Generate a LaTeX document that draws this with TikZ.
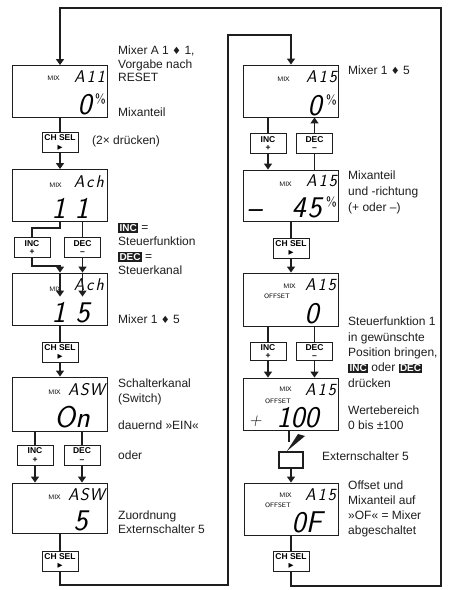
\documentclass[tikz,border=0pt]{standalone}
\usepackage{fontspec}
\setmainfont{Liberation Sans}
\newfontfamily\symbolfont{DejaVu Sans}
\usepackage{tikz}
\usetikzlibrary{arrows.meta,calc,positioning}
\definecolor{ManualInk}{HTML}{1E1E1E}
\newcommand{\keytag}[1]{{\setlength{\fboxsep}{1.3pt}\colorbox{ManualInk}{\textcolor{white}{\bfseries\fontsize{10}{10}\selectfont #1}}}}
\newcommand{\mixto}{{\symbolfont\fontsize{10}{10}\selectfont ♦}}
\newcommand{\playmark}{{\symbolfont\fontsize{6.5}{6.5}\selectfont ▶}}
\tikzset{
  flowarrow/.style={-{Triangle[length=6pt,width=8pt]},line width=1.4pt,draw=ManualInk},
  flowline/.style={line width=1.4pt,draw=ManualInk},
  display/.style={draw=ManualInk,line width=0.9pt,minimum width=95pt,minimum height=52pt,inner sep=0pt},
  keybox/.style={draw=ManualInk,line width=0.8pt,fill=white,minimum width=36pt,minimum height=20pt,inner sep=0pt,align=center,font=\fontsize{8.5}{8.5}\selectfont\bfseries},
  switchbox/.style={draw=ManualInk,line width=1.2pt,minimum width=24pt,minimum height=16pt,inner sep=0pt},
  note/.style={anchor=north west,align=left,inner sep=0pt,font=\fontsize{12}{15}\selectfont,text=ManualInk},
  lcdtag/.style={anchor=base east,inner sep=0pt,font=\sffamily\fontsize{6.5}{6.5}\selectfont},
  lcdtop/.style={anchor=base east,inner sep=0pt,font=\sffamily\slshape\fontsize{17}{17}\selectfont},
  lcdbig/.style={anchor=base east,inner sep=0pt,font=\sffamily\slshape\fontsize{30}{30}\selectfont},
  lcdunit/.style={anchor=base east,inner sep=0pt,font=\sffamily\fontsize{13}{13}\selectfont}
}
\begin{document}
\begin{tikzpicture}[x=1pt,y=-1pt]
  \path[use as bounding box,fill=white] (0,0) rectangle (448,590);

  % left column
  \node[display] (mixA) at (60,91.5) {};
  \node[keybox] (chselA) at (60,142.5) {CH SEL\\\playmark};
  \node[display] (mixCh) at (60,195.5) {};
  \node[keybox] (incA) at (32,247.5) {INC\\+};
  \node[keybox] (decA) at (82.5,247.5) {DEC\\–};
  \node[display] (mixChB) at (60,299) {};
  \node[keybox] (chselB) at (60,352) {CH SEL\\\playmark};
  \node[display,minimum height=54pt] (mixSw) at (60,404) {};
  \node[keybox] (incB) at (35,455) {INC\\+};
  \node[keybox] (decB) at (82,455) {DEC\\–};
  \node[display,minimum height=50pt] (mixSwB) at (60,508) {};
  \node[keybox] (chselC) at (60,561) {CH SEL\\\playmark};

  % right column
  \node[display] (mixR1) at (291,91) {};
  \node[keybox] (incR1) at (268,143.5) {INC\\+};
  \node[keybox] (decR1) at (314.5,143.5) {DEC\\–};
  \node[display,minimum height=51pt] (mixR2) at (291,195.5) {};
  \node[keybox] (chselR1) at (291,248) {CH SEL\\\playmark};
  \node[display,minimum height=53pt] (mixR3) at (291,299.5) {};
  \node[keybox,minimum height=18pt] (incR2) at (268,351.5) {INC\\+};
  \node[keybox,minimum height=18pt] (decR2) at (314.5,351.5) {DEC\\–};
  \node[display] (mixR4) at (291,404) {};
  \node[switchbox] (switchR) at (291,460) {};
  \node[display,minimum width=94pt] (mixR5) at (291,509) {};
  \node[keybox] (chselR2) at (291,561) {CH SEL\\\playmark};

  % display readouts
  \node[lcdtag] (tagA) at (60,80) {MIX};
  \node[lcdtop] (segA) at (105,82) {A\kern2pt1\kern2pt1};
  \node[lcdbig] (valA) at (92,114) {0};
  \node[lcdunit] (unitA) at (106,103) {\%};
  \node[lcdtag] (tagCh) at (62,187) {MIX};
  \node[lcdtop] (segCh) at (104,187) {A\kern2pt c\kern2pt h};
  \node[lcdbig] (valChA) at (66,218) {1};
  \node[lcdbig] (valChB) at (89,218) {1};
  \node[lcdtag] (tagChB) at (62,291) {MIX};
  \node[lcdtop] (segChB) at (104,290) {A\kern2pt c\kern2pt h};
  \node[lcdbig] (valChC) at (66,322) {1};
  \node[lcdbig] (valChD) at (90,322) {5};
  \node[lcdtag] (tagSw) at (61,394) {MIX};
  \node[lcdtop] (segSw) at (105,395) {A\kern1pt S\kern1pt W};
  \node[lcdbig] (valSw) at (90,427) {On};
  \node[lcdtag] (tagSwB) at (61,499) {MIX};
  \node[lcdtop] (segSwB) at (105,500) {A\kern1pt S\kern1pt W};
  \node[lcdbig] (valSwB) at (88,530) {5};
  \node[lcdtag] (tagR1) at (290,81) {MIX};
  \node[lcdtop] (segR1) at (337,82) {A\kern2pt1\kern2pt5};
  \node[lcdbig] (valR1) at (322,115) {0};
  \node[lcdunit] (unitR1) at (337,104) {\%};
  \node[lcdtag] (tagR2) at (292,186) {MIX};
  \node[lcdtop] (segR2) at (337,186) {A\kern2pt1\kern2pt5};
  \node[lcdbig,anchor=base west] (signR2) at (247,218) {–};
  \node[lcdbig] (valR2) at (322,217) {4\kern2pt5};
  \node[lcdunit] (unitR2) at (337,206) {\%};
  \node[lcdtag] (tagR3) at (296,288) {MIX};
  \node[lcdtag] (offR3) at (290,298) {OFFSET};
  \node[lcdtop] (segR3) at (336,290) {A\kern2pt1\kern2pt5};
  \node[lcdbig] (valR3) at (319,323) {0};
  \node[lcdtag] (tagR4) at (292,391) {MIX};
  \node[lcdtag] (offR4) at (291,403) {OFFSET};
  \node[lcdtop] (segR4) at (336,395) {A\kern2pt1\kern2pt5};
  \node[lcdtop,anchor=base west] (signR4) at (249,425) {+};
  \node[lcdbig] (valR4) at (319,427) {100};
  \node[lcdtag] (tagR5) at (292,497) {MIX};
  \node[lcdtag] (offR5) at (291,507) {OFFSET};
  \node[lcdtop] (segR5) at (336,500) {A\kern2pt1\kern2pt5};
  \node[lcdbig] (valR5) at (322,532) {0F};

  % connectors, left column
  \draw[flowline] (mixA) -- (chselA);
  \draw[flowarrow] (chselA) -- (mixCh);
  \draw[flowline] (mixCh.south) -- ++(0,6) -| (incA.north);
  \draw[flowline] (mixCh.south -| decA) -- (decA.north);
  \draw[flowarrow] (incA.south) -- ++(0,8) -| (mixChB.north);
  \draw[flowarrow] (decA) -- (decA |- mixChB.north);
  \draw[flowarrow] (mixChB.north) -- ++(0,24);
  \draw[flowarrow] (mixChB.north -| decA) -- ++(0,24);
  \draw[flowline] (mixChB) -- (chselB);
  \draw[flowarrow] (chselB) -- (mixSw);
  \draw[flowline] (mixSw.south -| incB) -- (incB);
  \draw[flowline] (mixSw.south -| decB) -- (decB);
  \draw[flowarrow] (incB) -- (incB |- mixSwB.north);
  \draw[flowarrow] (decB) -- (decB |- mixSwB.north);
  \draw[flowline] (mixSwB) -- (chselC);
  \coordinate (loopBL) at (228,585);
  \coordinate (loopTL) at (228,35);
  \draw[flowarrow] (chselC.south) |- (loopBL) -- (loopTL) -| (mixR1.north);

  % connectors, right column
  \draw[flowline] (mixR1.south -| incR1) -- (incR1);
  \draw[flowarrow] (incR1) -- (incR1 |- mixR2.north);
  \draw[flowline] (mixR2.north -| decR1) -- (decR1);
  \draw[flowarrow] (decR1) -- (decR1 |- mixR1.south);
  \draw[flowline] (mixR2) -- (chselR1);
  \draw[flowarrow] (chselR1) -- (mixR3);
  \draw[flowline] (mixR3.south -| incR2) -- (incR2);
  \draw[flowline] (mixR3.south -| decR2) -- (decR2);
  \draw[flowarrow] (incR2) -- (incR2 |- mixR4.north);
  \draw[flowarrow] (decR2) -- (decR2 |- mixR4.north);
  \coordinate (leverTop) at (289,442);
  \draw[flowline] (mixR4.south -| leverTop) -- (leverTop);
  \fill[ManualInk] (287,451) -- (298,434) -- (305,436) -- cycle;
  \draw[flowarrow] (switchR) -- (mixR5);
  \draw[flowline] (mixR5) -- (chselR2);
  \coordinate (loopBR) at (441,586);
  \coordinate (loopTR) at (441,8);
  \draw[flowarrow] (chselR2.south) |- (loopBR) -- (loopTR) -| (mixA.north);

  % notes
  \node[note,font=\fontsize{12}{13.5}\selectfont] (noteReset) at (118,46) {Mixer A 1 \mixto{} 1,\\Vorgabe nach\\RESET};
  \node[note] (noteShare) at (118,108) {Mixanteil};
  \node[note] (notePress) at (92,136) {(2× drücken)};
  \node[note,font=\fontsize{12}{14.5}\selectfont] (noteKeys) at (118,223) {\keytag{INC} =\\Steuerfunktion\\\keytag{DEC} =\\Steuerkanal};
  \node[note] (noteMixL) at (118,315) {Mixer 1 \mixto{} 5};
  \node[note] (noteSwitch) at (118,379) {Schalterkanal\\(Switch)};
  \node[note] (noteOn) at (118,421) {dauernd »EIN«};
  \node[note] (noteOr) at (118,451) {oder};
  \node[note,font=\fontsize{12}{14}\selectfont] (noteAssign) at (118,511) {Zuordnung\\Externschalter 5};
  \node[note] (noteMixR) at (348,66) {Mixer 1 \mixto{} 5};
  \node[note,font=\fontsize{12}{16}\selectfont] (noteDir) at (348,171) {Mixanteil\\und -richtung\\(+ oder –)};
  \node[note,font=\fontsize{12}{15.3}\selectfont] (noteOffset) at (348,317) {Steuerfunktion 1\\in gewünschte\\Position bringen,\\\keytag{INC} oder \keytag{DEC}\\drücken};
  \node[note] (noteRange) at (348,406) {Wertebereich\\0 bis ±100};
  \node[note] (noteExt) at (322,452) {Externschalter 5};
  \node[note] (noteOff) at (348,481) {Offset und\\Mixanteil auf\\»OF« = Mixer\\abgeschaltet};
\end{tikzpicture}
\end{document}
